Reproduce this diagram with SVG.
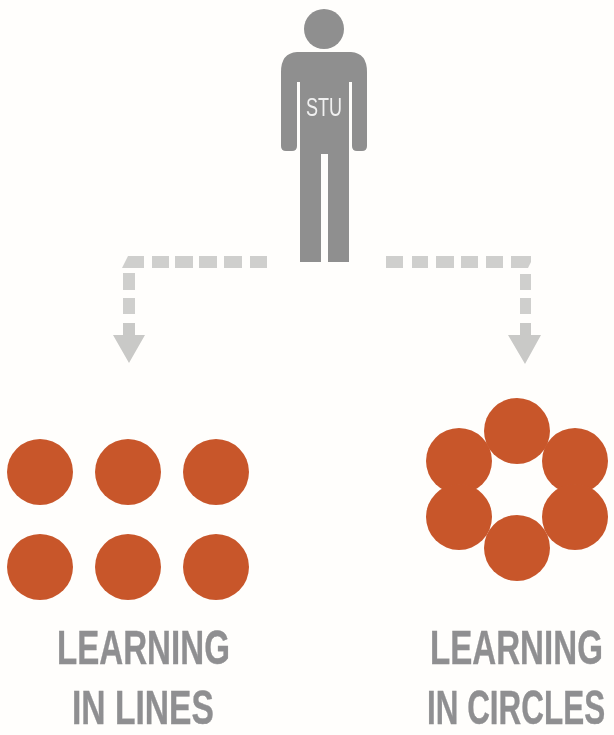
<svg xmlns="http://www.w3.org/2000/svg" width="614" height="735" viewBox="0 0 614 735">
<style>
.dot{fill:#c8572c;filter:url(#soft)}
.dash{fill:#cfcfcd;filter:url(#soft)}
.head{fill:#c9c9c7;filter:url(#soft)}
.body{fill:#8f8f8f;filter:url(#soft)}
.lab{font-family:"Liberation Sans",Arial,sans-serif;font-weight:700;font-size:48px;fill:#8f8f91;stroke:#8f8f91;stroke-width:.4;filter:url(#soft)}
.stu{font-family:"Liberation Sans",Arial,sans-serif;font-size:25px;fill:#f1f1f1;filter:url(#soft)}
</style>
<defs>
<filter id="soft" x="-10%" y="-10%" width="120%" height="120%"><feGaussianBlur stdDeviation="0.7"/></filter>
</defs>
<rect width="614" height="735" fill="#fffefc"/>
<g id="student">
<circle class="body" cx="324" cy="29" r="20"/>
<path class="body" d="M297 52H351Q367 53 367 72V146Q367 151 362 151H357Q352 151 352 146V82H349V262H328V154H321V262H300V82H297V146Q297 151 292 151H286Q281 151 281 146V72Q281 53 297 52Z"/>
<text class="stu" transform="translate(306 116) scale(.72 1)">STU</text>
</g>
<g id="connectors">
<g id="connector-left">
<path class="dash" d="M128 256H144V268H122Z"/>
<rect class="dash" x="152" y="256" width="17" height="12"/>
<rect class="dash" x="175" y="256" width="18" height="12"/>
<rect class="dash" x="199" y="256" width="18" height="12"/>
<rect class="dash" x="224" y="256" width="18" height="12"/>
<rect class="dash" x="250" y="256" width="17" height="12"/>
<rect class="dash" x="123" y="273" width="12" height="17"/>
<rect class="dash" x="123" y="298" width="12" height="16"/>
<path class="head" d="M123 323H135V335H145L129 363L113 335H123Z"/>
</g>
<g id="connector-right">
<rect class="dash" x="386" y="256" width="17" height="12"/>
<rect class="dash" x="412" y="256" width="16" height="12"/>
<rect class="dash" x="436" y="256" width="18" height="12"/>
<rect class="dash" x="461" y="256" width="17" height="12"/>
<rect class="dash" x="486" y="256" width="17" height="12"/>
<path class="dash" d="M511 256H531V262L528 268H511Z"/>
<rect class="dash" x="520" y="274" width="11" height="16"/>
<rect class="dash" x="520" y="298" width="11" height="16"/>
<path class="head" d="M520 323H531V335H541L525 364L508 335H520Z"/>
</g>
</g>
<g id="learning-in-lines">
<circle class="dot" cx="40" cy="472" r="33"/>
<circle class="dot" cx="128" cy="472" r="33"/>
<circle class="dot" cx="216" cy="472" r="33"/>
<circle class="dot" cx="40" cy="567" r="33"/>
<circle class="dot" cx="128" cy="567" r="33"/>
<circle class="dot" cx="216" cy="567" r="33"/>
<text class="lab" transform="translate(57 664) scale(.69 1)">LEARNING</text>
<text class="lab" transform="translate(72 724) scale(.70 1)">IN LINES</text>
</g>
<g id="learning-in-circles">
<circle class="dot" cx="459" cy="461" r="33"/>
<circle class="dot" cx="575" cy="461" r="33"/>
<circle class="dot" cx="459" cy="517" r="33"/>
<circle class="dot" cx="575" cy="517" r="33"/>
<circle class="dot" cx="517" cy="431" r="33"/>
<circle class="dot" cx="517" cy="548" r="33"/>
<text class="lab" transform="translate(430 664) scale(.69 1)">LEARNING</text>
<text class="lab" transform="translate(427 724) scale(.655 1)">IN CIRCLES</text>
</g>
</svg>
